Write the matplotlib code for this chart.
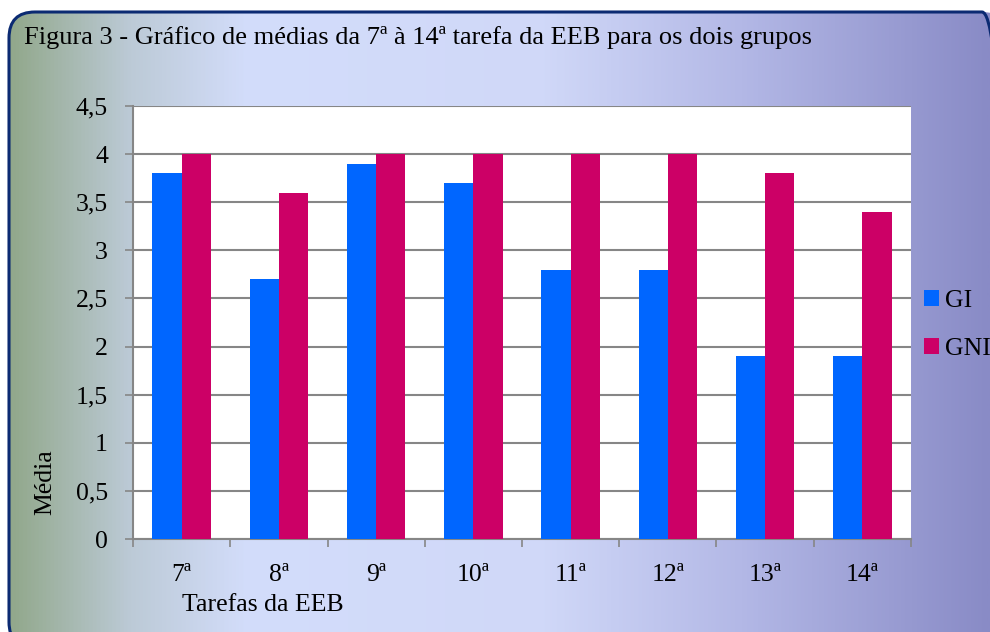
import numpy as np
import matplotlib
matplotlib.use("Agg")
import matplotlib.pyplot as plt
from matplotlib.patches import FancyBboxPatch
from matplotlib.colors import LinearSegmentedColormap

categories = ["7ª", "8ª", "9ª", "10ª", "11ª", "12ª", "13ª", "14ª"]
gi = [3.8, 2.7, 3.9, 3.7, 2.8, 2.8, 1.9, 1.9]
gni = [4.0, 3.6, 4.0, 4.0, 4.0, 4.0, 3.8, 3.4]
yticks = [0, 0.5, 1, 1.5, 2, 2.5, 3, 3.5, 4, 4.5]
ytick_labels = ["0", "0,5", "1", "1,5", "2", "2,5", "3", "3,5", "4", "4,5"]

plt.rcParams['font.family'] = ['Liberation Serif', 'DejaVu Serif']
FS = 18.5

W, H = 990, 632
fig = plt.figure(figsize=(W / 100, H / 100), dpi=100)

# background gradient inside rounded frame (pixel coords, origin bottom-left)
bg = fig.add_axes([0, 0, 1, 1])
bg.axis("off")
cmap = LinearSegmentedColormap.from_list("bg", [
    (0.0, "#8ea585"), (0.13, "#bccad6"), (0.25, "#d3ddfb"),
    (0.55, "#d0d8f8"), (0.75, "#b3b8e6"), (1.0, "#898bc6")])
grad = np.linspace(0, 1, 512).reshape(1, -1)
im = bg.imshow(grad, aspect="auto", cmap=cmap, extent=[0, W, 0, H], origin="lower", zorder=0)
frame = FancyBboxPatch((9, -16), 999, H - 12 + 16, boxstyle="round,pad=0,rounding_size=26",
                       fc="none", ec="#0b2a72", lw=2.2, zorder=2)
bg.add_patch(frame)
im.set_clip_path(frame)
bg.set_autoscale_on(False)
bg.set_xlim(0, W)
bg.set_ylim(0, H)

fig.text(24 / W, 1 - 44 / H, "Figura 3 - Gráfico de médias da 7ª à 14ª tarefa da EEB para os dois grupos",
         fontsize=19, va="baseline", ha="left", color="black")

ax = fig.add_axes([133 / W, 1 - 539 / H, (911 - 133) / W, (539 - 106) / H])
ax.set_facecolor("white")
x = np.arange(len(categories))
w = 0.3
ax.bar(x - w / 2, gi, width=w, color="#0066ff", zorder=3, label="GI")
ax.bar(x + w / 2, gni, width=w, color="#cc0066", zorder=3, label="GNI")
ax.set_xlim(-0.5, len(categories) - 0.5)
ax.set_ylim(0, 4.5)
ax.set_yticks(yticks)
ax.set_yticklabels(ytick_labels, fontsize=FS)
ax.yaxis.grid(True, color="#868686", lw=1.5, zorder=1)
ax.set_axisbelow(True)
ax.set_xticks(np.arange(-0.5, len(categories), 1))
ax.set_xticklabels([])
ax.set_xticks(x, minor=True)
ax.set_xticklabels(categories, minor=True, fontsize=FS)
ax.tick_params(axis="x", which="major", length=6, color="#868686", width=1.2)
ax.tick_params(axis="x", which="minor", length=0, pad=18)
ax.tick_params(axis="y", length=6, color="#868686", width=1.2, pad=12)
for s in ["top", "right"]:
    ax.spines[s].set_visible(False)
for s in ["left", "bottom"]:
    ax.spines[s].set_color("#868686")
    ax.spines[s].set_linewidth(1.5)

fig.text(45 / W, 1 - 482 / H, "Média", rotation=90, fontsize=FS, ha="center", va="center")
fig.text(182 / W, 1 - 605 / H, "Tarefas da EEB", fontsize=FS, ha="left", va="center")

leg = ax.legend(loc="upper left", bbox_to_anchor=(924 / W, 1 - 290 / H), bbox_transform=fig.transFigure,
                frameon=False, fontsize=FS, handlelength=0.6, handleheight=0.6,
                handletextpad=0.2, labelspacing=1.0, borderaxespad=0, borderpad=0)

fig.savefig("out.png", dpi=100)
